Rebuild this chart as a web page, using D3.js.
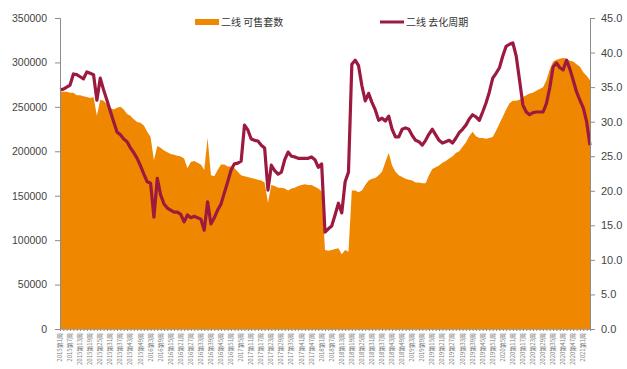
<!DOCTYPE html>
<html>
<head>
<meta charset="utf-8">
<script src="https://cdn.jsdelivr.net/npm/d3@7/dist/d3.min.js"></script>
<style>
  html, body { margin: 0; padding: 0; background: #fff; }
  svg { display: block; }
  .tick text { font-family: "Liberation Sans", Arial, sans-serif; fill: #444; }
</style>
</head>
<body>
<svg id="chart" width="627" height="369"></svg>
<script>
// Second-tier cities: unsold housing stock (units, left axis) and months to clear it (right axis), biweekly
const startYear = 2015;
const categories = [];
{
  let year = startYear, week = 1;
  for (let i = 0; i < 159; i++) {
    categories.push(year + "第" + week + "周");
    week += 2;
    if (week > 52) { week -= 52; year += 1; }
  }
}

const stockValues = [
  267000, 267000, 267000, 266000, 266000, 263000, 263000, 262000, 261000, 260000,
  261000, 240000, 258000, 257000, 253000, 249000, 247000, 249000, 250000, 247000,
  242000, 240000, 236000, 233000, 232000, 229000, 222000, 216000, 190000, 206000,
  204000, 201000, 199000, 197000, 196000, 195000, 194000, 192000, 181000, 188000,
  189000, 187000, 185000, 179000, 215000, 173000, 172000, 179000, 185000, 185000,
  183000, 183000, 181000, 177000, 173000, 172000, 171000, 170000, 169000, 168000,
  167000, 165000, 142000, 162000, 161000, 159000, 159000, 158000, 156000, 158000,
  159000, 161000, 162000, 163000, 162000, 162000, 160000, 158000, 155000, 89000,
  88000, 89000, 90000, 91000, 84000, 89000, 87000, 156000, 156000, 154000,
  156000, 162000, 167000, 169000, 170000, 173000, 177000, 188000, 198000, 184000,
  177000, 173000, 171000, 169000, 168000, 167000, 165000, 165000, 164000, 164000,
  173000, 180000, 182000, 184000, 187000, 189000, 192000, 194000, 198000, 200000,
  205000, 210000, 217000, 222000, 217000, 215000, 215000, 214000, 215000, 216000,
  223000, 231000, 239000, 247000, 254000, 257000, 257000, 258000, 261000, 263000,
  265000, 266000, 268000, 270000, 272000, 280000, 292000, 301000, 303000, 304000,
  305000, 304000, 302000, 301000, 298000, 295000, 289000, 285000, 280000
];

const cycleValues = [
  34.6, 34.7, 35.0, 35.3, 36.9, 36.8, 36.5, 36.2, 37.2, 37.0,
  36.8, 33.1, 36.3, 34.6, 33.1, 31.5, 30.0, 28.5, 28.1, 27.5,
  27.1, 26.2, 25.5, 24.7, 23.6, 22.4, 21.3, 21.1, 16.2, 21.8,
  19.4, 18.1, 17.5, 17.2, 16.9, 16.9, 16.6, 15.5, 16.5, 16.1,
  16.3, 16.1, 15.9, 14.3, 18.4, 15.2, 16.1, 17.2, 18.1, 19.7,
  21.3, 23.0, 23.9, 24.0, 24.3, 29.5, 28.8, 27.5, 27.3, 27.2,
  26.6, 26.2, 20.1, 23.7, 22.9, 22.4, 22.7, 24.5, 25.6, 25.0,
  24.9, 24.7, 24.7, 24.7, 24.7, 24.9, 24.5, 23.4, 23.9, 14.0,
  14.5, 14.9, 16.5, 18.2, 16.8, 21.3, 22.7, 38.3, 38.9, 38.1,
  35.2, 33.0, 34.1, 32.8, 31.7, 30.2, 30.5, 30.1, 30.8, 28.9,
  27.8, 27.8, 28.9, 29.1, 28.9, 28.0, 27.3, 27.1, 26.6, 27.3,
  28.2, 28.9, 28.1, 27.3, 26.9, 27.1, 27.3, 26.9, 27.6, 28.4,
  28.9, 29.5, 30.4, 31.0, 30.7, 30.2, 31.4, 32.7, 34.3, 36.3,
  37.0, 37.8, 39.5, 40.9, 41.2, 41.4, 39.5, 36.0, 32.4, 31.4,
  31.0, 31.3, 31.4, 31.4, 31.4, 32.6, 34.9, 37.9, 38.5, 37.8,
  37.5, 38.9, 37.6, 36.0, 34.3, 33.1, 32.0, 30.0, 26.6
];

const leftTicks = [0, 50000, 100000, 150000, 200000, 250000, 300000, 350000];
const rightTicks = [0, 5, 10, 15, 20, 25, 30, 35, 40, 45];
const seriesNames = ["二线 可售套数", "二线 去化周期"];

const orange = "#ef8700";
const maroon = "#9c1a40";
const axisGrey = "#8c8c8c";

const plotLeft = 60, plotRight = 590, plotTop = 18, plotBottom = 329;
const svg = d3.select("#chart");

const x = d3.scalePoint().domain(categories).range([plotLeft, plotRight]);
const yL = d3.scaleLinear().domain([0, 350000]).range([plotBottom, plotTop]);
const yR = d3.scaleLinear().domain([0, 45]).range([plotBottom, plotTop]);

// Stock area
const area = d3.area()
  .x((d, i) => x(categories[i]))
  .y0(plotBottom)
  .y1(d => yL(d));
svg.append("path")
  .datum(stockValues)
  .attr("d", area)
  .attr("fill", orange);

// Clearing-cycle line
const line = d3.line()
  .x((d, i) => x(categories[i]))
  .y(d => yR(d));
svg.append("path")
  .datum(cycleValues)
  .attr("d", line)
  .attr("fill", "none")
  .attr("stroke", maroon)
  .attr("stroke-width", 3.2)
  .attr("stroke-linejoin", "round");

// Left axis
const gL = svg.append("g")
  .attr("transform", `translate(${plotLeft},0)`)
  .call(d3.axisLeft(yL).tickValues(leftTicks).tickSize(5).tickPadding(8).tickFormat(d3.format("d")));
gL.selectAll("text").attr("font-size", 10.5);

// Right axis
const gR = svg.append("g")
  .attr("transform", `translate(${plotRight},0)`)
  .call(d3.axisRight(yR).tickValues(rightTicks).tickSize(5).tickPadding(6).tickFormat(d3.format(".1f")));
gR.selectAll("text").attr("font-size", 11);

// Bottom axis with a tick at every period and a label every third one
const labelled = categories.filter((d, i) => i % 3 === 0);
const gB = svg.append("g")
  .attr("transform", `translate(0,${plotBottom})`)
  .call(d3.axisBottom(x).tickValues(categories).tickSize(2).tickFormat(""));
gB.append("g")
  .selectAll("text")
  .data(labelled)
  .join("text")
  .attr("transform", d => `translate(${x(d) + 2},4) rotate(-90)`)
  .attr("text-anchor", "end")
  .attr("font-size", 6)
  .attr("font-family", "'Noto Sans CJK SC', sans-serif")
  .attr("fill", "#777")
  .text(d => d);

[gL, gR, gB].forEach(g => {
  g.select(".domain").attr("stroke", axisGrey);
  g.selectAll(".tick line").attr("stroke", axisGrey);
});
gB.select(".domain").attr("stroke", "#aaa");

// Legend
const legend = svg.append("g")
  .attr("font-family", "'Noto Sans CJK SC', sans-serif")
  .attr("font-size", 10)
  .attr("fill", "#333");
legend.append("rect").attr("x", 195).attr("y", 19).attr("width", 24).attr("height", 6).attr("fill", orange);
legend.append("text").attr("x", 221).attr("y", 26).text(seriesNames[0]);
legend.append("line").attr("x1", 380).attr("x2", 404).attr("y1", 22).attr("y2", 22)
  .attr("stroke", maroon).attr("stroke-width", 3);
legend.append("text").attr("x", 406).attr("y", 26).text(seriesNames[1]);
</script>
</body>
</html>
